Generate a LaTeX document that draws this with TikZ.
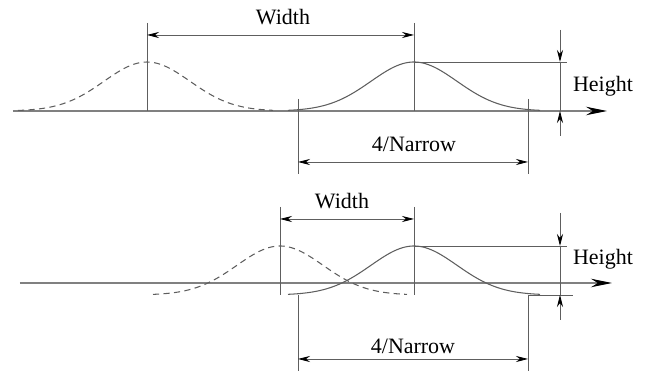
\documentclass[tikz,border=0pt]{standalone}
\usepackage{fontspec}
\setmainfont{Liberation Serif}
\usetikzlibrary{arrows.meta,positioning,calc}
\definecolor{linegray}{HTML}{5E5E5E}
\definecolor{axisgray}{HTML}{808080}
\tikzset{
  axisline/.style={-{Stealth[length=4.2mm,width=1.7mm,color=black]}, draw=axisgray, line width=0.6pt},
  guide/.style={draw=linegray, line width=0.45pt},
  dimarrow/.style={{Stealth[length=2.4mm,width=1.2mm,color=black]}-{Stealth[length=2.4mm,width=1.2mm,color=black]}, draw=linegray, line width=0.45pt},
  tickarrow/.style={-{Stealth[length=2.4mm,width=1.2mm,color=black]}, draw=linegray, line width=0.45pt},
  pulse/.style={draw=linegray, line width=0.6pt},
  oldpulse/.style={pulse, dash pattern=on 3.5pt off 2.5pt},
  lbl/.style={font=\fontsize{12.5}{15}\selectfont, inner sep=1pt}
}
\begin{document}
\begin{tikzpicture}[x=0.02cm, y=-0.02cm]
  \useasboundingbox (0,0) rectangle (654,371);

  % upper panel: pulses far apart
  \coordinate (t-ax0) at (13,111);
  \coordinate (t-ax1) at (607,111);
  \draw[axisline] (t-ax0) -- (t-ax1);
  \draw[oldpulse] plot[domain=-129:126, samples=80] (\x+147, {111-49*exp(-(\x/43)^2/2)});
  \draw[pulse] plot[domain=-126:126, samples=80] (\x+414, {111-49*exp(-(\x/43)^2/2)});
  \coordinate (t-old-top) at (147,23);
  \coordinate (t-old-bot) at (147,111);
  \coordinate (t-new-top) at (414,23);
  \coordinate (t-new-bot) at (414,111);
  \draw[guide] (t-old-top) -- (t-old-bot);
  \draw[guide] (t-new-top) -- (t-new-bot);
  \coordinate (t-w-l) at (147,35);
  \coordinate (t-w-r) at (414,35);
  \draw[dimarrow] (t-w-l) -- (t-w-r);
  \node[lbl] (t-width) at (283,17) {Width};
  % height
  \coordinate (t-peak) at (414,62);
  \coordinate (t-peak-end) at (567,62);
  \draw[guide] (t-peak) -- (t-peak-end);
  \coordinate (t-h-top) at (560,30);
  \coordinate (t-h-hi) at (560,62);
  \coordinate (t-h-lo) at (560,111);
  \coordinate (t-h-bot) at (560,136);
  \draw[tickarrow] (t-h-top) -- (t-h-hi);
  \draw[guide] (t-h-hi) -- (t-h-lo);
  \draw[tickarrow] (t-h-bot) -- (t-h-lo);
  \node[lbl] (t-height) at (603,86) {Height};
  % narrow
  \coordinate (t-n-l0) at (298,99);
  \coordinate (t-n-l1) at (298,174);
  \coordinate (t-n-r0) at (528,99);
  \coordinate (t-n-r1) at (528,174);
  \draw[guide] (t-n-l0) -- (t-n-l1);
  \draw[guide] (t-n-r0) -- (t-n-r1);
  \coordinate (t-n-l) at (298,162);
  \coordinate (t-n-r) at (528,162);
  \draw[dimarrow] (t-n-l) -- (t-n-r);
  \node[lbl] (t-narrow) at (414,144) {4/Narrow};

  % lower panel: pulses overlapping
  \coordinate (b-ax0) at (20,283);
  \coordinate (b-ax1) at (612,283);
  \draw[axisline] (b-ax0) -- (b-ax1);
  \draw[oldpulse] plot[domain=-127:127, samples=80] (\x+280, {295-49*exp(-(\x/43)^2/2)});
  \draw[pulse] plot[domain=-126:126, samples=80] (\x+414, {295-49*exp(-(\x/43)^2/2)});
  \coordinate (b-old-top) at (280,207);
  \coordinate (b-old-bot) at (280,295);
  \coordinate (b-new-top) at (414,207);
  \coordinate (b-new-bot) at (414,295);
  \draw[guide] (b-old-top) -- (b-old-bot);
  \draw[guide] (b-new-top) -- (b-new-bot);
  \coordinate (b-w-l) at (280,219);
  \coordinate (b-w-r) at (414,219);
  \draw[dimarrow] (b-w-l) -- (b-w-r);
  \node[lbl] (b-width) at (342,201) {Width};
  % height
  \coordinate (b-peak) at (414,246);
  \coordinate (b-peak-end) at (567,246);
  \draw[guide] (b-peak) -- (b-peak-end);
  \coordinate (b-base) at (528,295);
  \coordinate (b-base-end) at (573,295);
  \draw[guide] (b-base) -- (b-base-end);
  \coordinate (b-h-top) at (560,213);
  \coordinate (b-h-hi) at (560,246);
  \coordinate (b-h-lo) at (560,295);
  \coordinate (b-h-bot) at (560,320);
  \draw[tickarrow] (b-h-top) -- (b-h-hi);
  \draw[guide] (b-h-hi) -- (b-h-lo);
  \draw[tickarrow] (b-h-bot) -- (b-h-lo);
  \node[lbl] (b-height) at (603,259) {Height};
  % narrow
  \coordinate (b-n-l0) at (298,295);
  \coordinate (b-n-l1) at (298,371);
  \coordinate (b-n-r0) at (528,295);
  \coordinate (b-n-r1) at (528,371);
  \draw[guide] (b-n-l0) -- (b-n-l1);
  \draw[guide] (b-n-r0) -- (b-n-r1);
  \coordinate (b-n-l) at (298,359);
  \coordinate (b-n-r) at (528,359);
  \draw[dimarrow] (b-n-l) -- (b-n-r);
  \node[lbl] (b-narrow) at (413,346) {4/Narrow};
\end{tikzpicture}
\end{document}
